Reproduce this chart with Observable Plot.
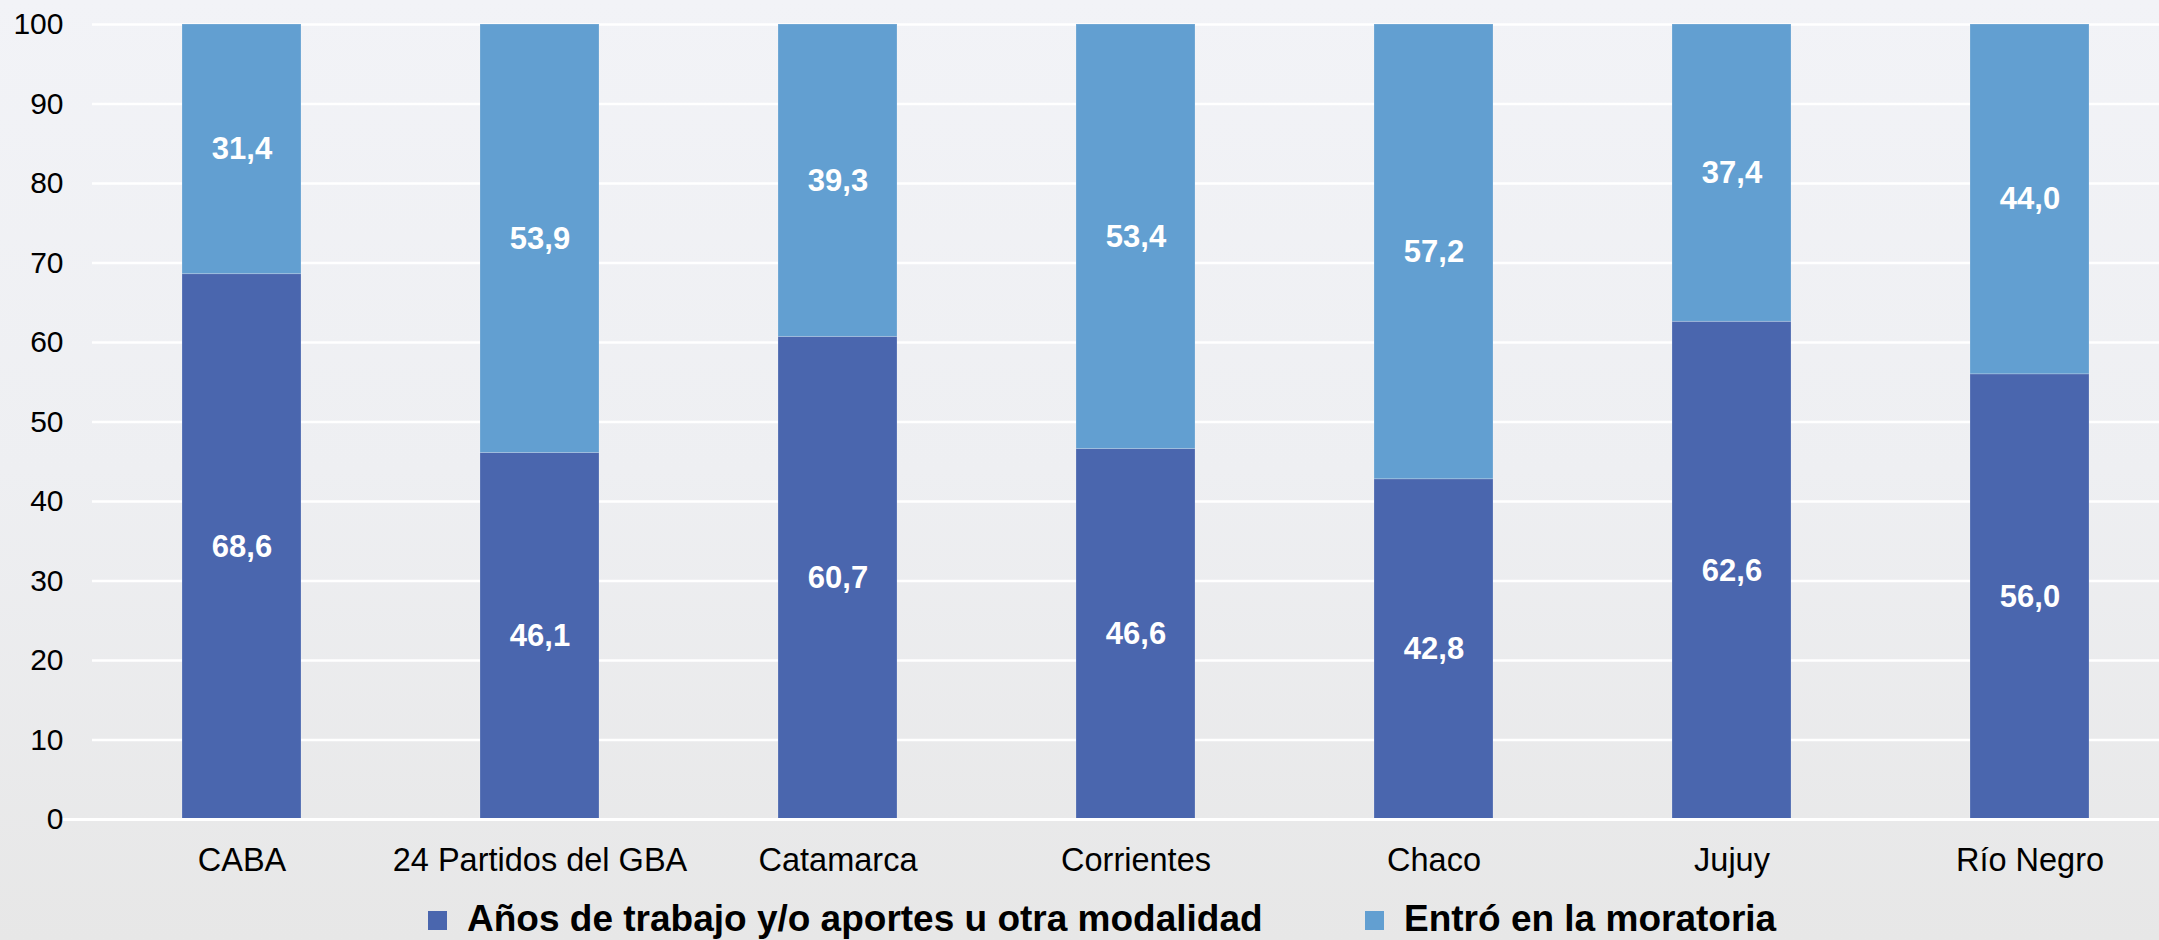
<!DOCTYPE html>
<html>
<head>
<meta charset="utf-8">
<script src="https://cdn.jsdelivr.net/npm/d3@7"></script>
<script src="https://cdn.jsdelivr.net/npm/@observablehq/plot@0.6"></script>
<style>
  html, body { margin: 0; padding: 0; }
  #wrap {
    position: relative; width: 2159px; height: 940px; overflow: hidden;
    background: linear-gradient(to bottom, #f2f3f7 0%, #eeeff2 50%, #e7e7e7 100%);
    font-family: "Liberation Sans", Arial, sans-serif;
  }
  .lg-sw { position: absolute; width: 19px; height: 19px; }
  .lg-tx { position: absolute; font-weight: bold; font-size: 37px; line-height: 37px; color: #000; white-space: nowrap; }
</style>
</head>
<body>
<div id="wrap"></div>
<script>
const categories = ["CABA", "24 Partidos del GBA", "Catamarca", "Corrientes", "Chaco", "Jujuy", "Río Negro"];
const seriesNames = ["Años de trabajo y/o aportes u otra modalidad", "Entró en la moratoria"];
const seriesColors = ["#4a66ae", "#629fd1"];
const aportes = [68.6, 46.1, 60.7, 46.6, 42.8, 62.6, 56.0];
const moratoria = [31.4, 53.9, 39.3, 53.4, 57.2, 37.4, 44.0];
const yTicks = [0, 10, 20, 30, 40, 50, 60, 70, 80, 90, 100];

const data = [];
categories.forEach((c, i) => {
  data.push({cat: c, series: seriesNames[0], value: aportes[i]});
  data.push({cat: c, series: seriesNames[1], value: moratoria[i]});
});
const fmt = v => v.toFixed(1).replace(".", ",");

const W = 2159, H = 890;
const chart = Plot.plot({
  width: W,
  height: H,
  marginLeft: 92,
  marginRight: 0,
  marginTop: 24,
  marginBottom: 71,
  style: {background: "transparent", fontFamily: "'Liberation Sans', Arial, sans-serif", color: "#000", overflow: "hidden"},
  x: {domain: categories, range: [92, 2180.2], paddingInner: 0.6, paddingOuter: 0.3, label: null},
  y: {domain: [0, 100], label: null},
  color: {domain: seriesNames, range: seriesColors},
  marks: [
    Plot.gridY(yTicks, {stroke: "white", strokeOpacity: 1, strokeWidth: 2.5}),
    Plot.barY(data, Plot.stackY({x: "cat", y: "value", fill: "series", stroke: "white", strokeOpacity: 0.2, strokeWidth: 1})),
    Plot.ruleY([0], {stroke: "white", strokeWidth: 3, insetLeft: -32}),
    Plot.text(data, Plot.stackY({x: "cat", y: "value", text: d => fmt(d.value), fill: "white", fontWeight: "bold", fontSize: 31})),
    Plot.axisY({ticks: yTicks, tickSize: 0, tickPadding: 29, fontSize: 30, fill: "#000"}),
    Plot.axisX({tickSize: 0, tickPadding: 28, fontSize: 32.5, fill: "#000"})
  ]
});
const wrap = document.getElementById("wrap");
chart.style.position = "absolute";
chart.style.left = "0px";
chart.style.top = "0px";
wrap.appendChild(chart);

// legend
const legendPos = [{sx: 428, tx: 467}, {sx: 1365, tx: 1404}];
seriesNames.forEach((name, i) => {
  const sw = document.createElement("div");
  sw.className = "lg-sw";
  sw.style.left = legendPos[i].sx + "px";
  sw.style.top = "911px";
  sw.style.background = seriesColors[i];
  wrap.appendChild(sw);
  const tx = document.createElement("div");
  tx.className = "lg-tx";
  tx.style.left = legendPos[i].tx + "px";
  tx.style.top = "900px";
  tx.textContent = name;
  wrap.appendChild(tx);
});
</script>
</body>
</html>
